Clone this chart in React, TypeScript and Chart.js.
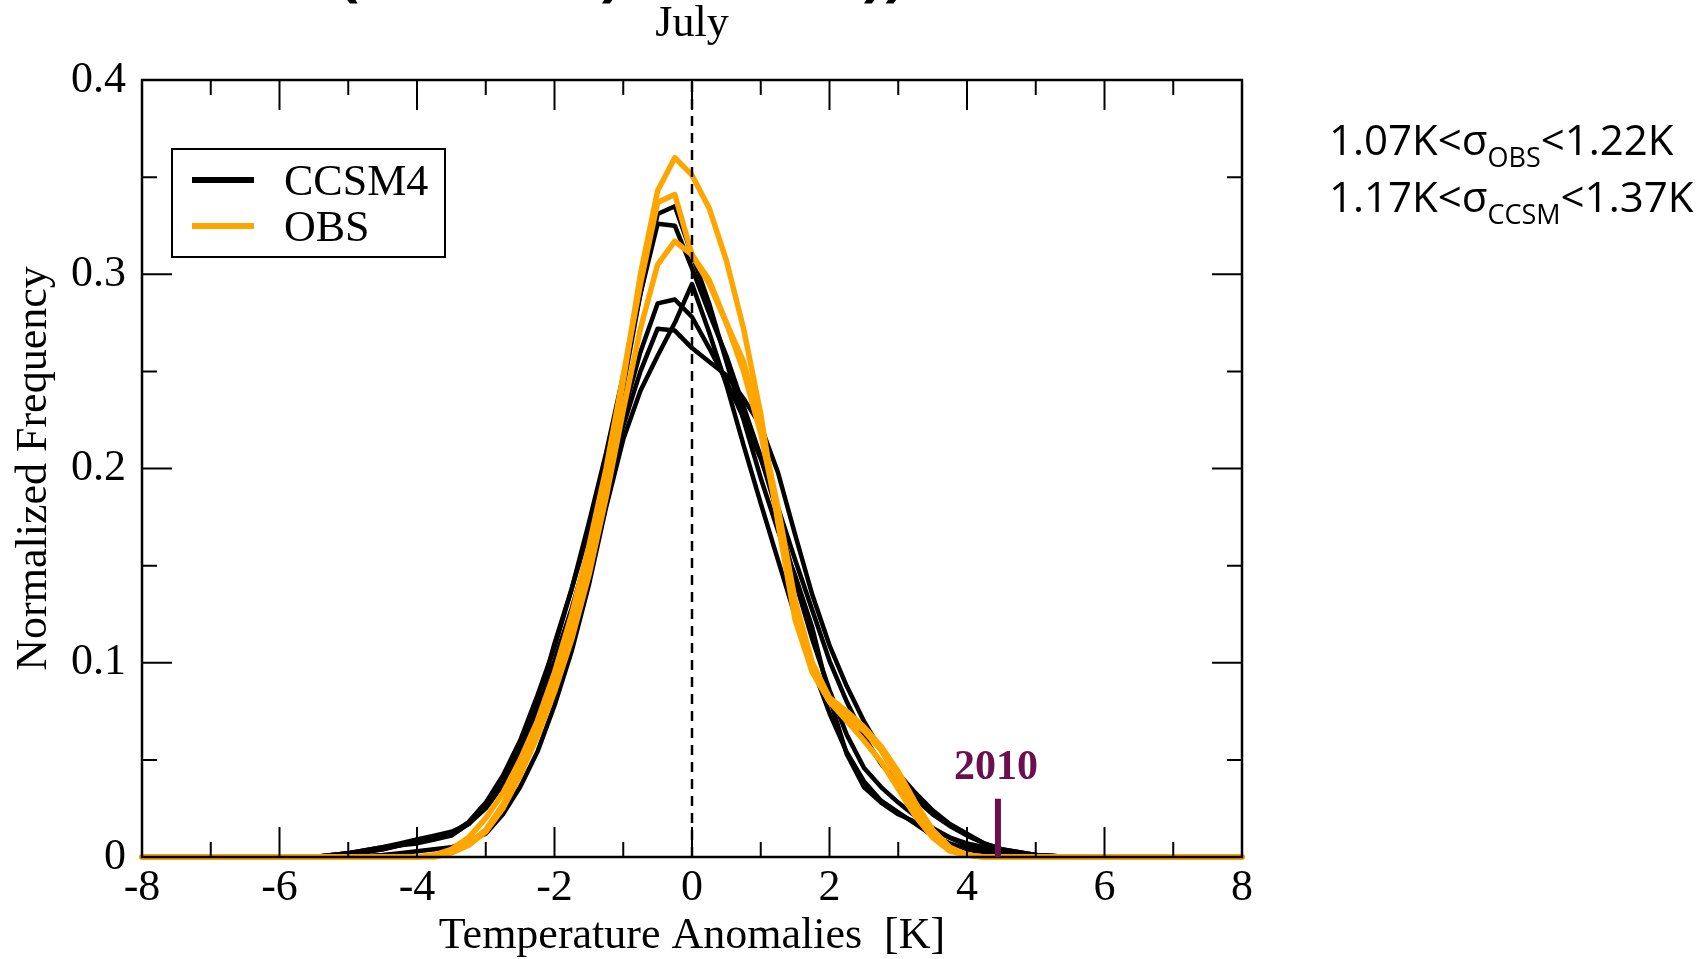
import React, { useEffect, useRef } from "react";
import { Chart, registerables } from "chart.js";

Chart.register(...registerables);

const SERIF = "'Liberation Serif', 'Times New Roman', serif";
const SANS = "'Open Sans', 'Noto Sans', sans-serif";
const ORANGE = "#FFA500";
const BLACK = "#000000";
const MAROON = "#6b0f4e";

// Temperature anomaly bins [K]
const TEMP_BINS = [
  -8, -5.5, -5, -4.5, -4.25, -4, -3.75, -3.5, -3.25, -3, -2.75, -2.5, -2.25, -2,
  -1.75, -1.5, -1.25, -1, -0.75, -0.5, -0.25, 0, 0.25, 0.5, 0.75, 1, 1.25, 1.5,
  1.75, 2, 2.25, 2.5, 2.75, 3, 3.25, 3.5, 3.75, 4, 4.25, 4.5, 5, 5.5, 8,
];

// CCSM4 ensemble members (normalized frequency)
const CCSM4_RUN1 = [
  0, 0, 0.001, 0.004, 0.006, 0.009, 0.011, 0.013, 0.017, 0.025, 0.037, 0.053, 0.078, 0.11,
  0.138, 0.168, 0.202, 0.242, 0.29, 0.331, 0.335, 0.31, 0.285, 0.255, 0.225, 0.195, 0.168, 0.145,
  0.118, 0.082, 0.053, 0.036, 0.028, 0.022, 0.018, 0.014, 0.01, 0.007, 0.005, 0.003, 0.001, 0, 0,
];
const CCSM4_RUN2 = [
  0, 0, 0.002, 0.005, 0.006, 0.008, 0.01, 0.012, 0.018, 0.028, 0.042, 0.06, 0.083, 0.108,
  0.138, 0.172, 0.208, 0.248, 0.29, 0.326, 0.325, 0.303, 0.28, 0.258, 0.232, 0.206, 0.176, 0.142,
  0.112, 0.086, 0.063, 0.046, 0.036, 0.028, 0.021, 0.015, 0.01, 0.006, 0.004, 0.002, 0.001, 0, 0,
];
const CCSM4_RUN3 = [
  0, 0, 0.002, 0.004, 0.006, 0.007, 0.009, 0.011, 0.017, 0.027, 0.04, 0.056, 0.077, 0.101,
  0.128, 0.158, 0.192, 0.228, 0.26, 0.285, 0.287, 0.278, 0.262, 0.245, 0.226, 0.205, 0.18, 0.153,
  0.127, 0.101, 0.08, 0.062, 0.048, 0.038, 0.03, 0.022, 0.016, 0.011, 0.007, 0.004, 0.001, 0, 0,
];
const CCSM4_RUN4 = [
  0, 0, 0.002, 0.005, 0.007, 0.009, 0.01, 0.012, 0.017, 0.026, 0.038, 0.053, 0.073, 0.098,
  0.126, 0.158, 0.19, 0.222, 0.25, 0.272, 0.271, 0.262, 0.255, 0.248, 0.236, 0.222, 0.198, 0.166,
  0.135, 0.109, 0.088, 0.07, 0.055, 0.043, 0.033, 0.024, 0.017, 0.012, 0.007, 0.004, 0.001, 0, 0,
];
const CCSM4_RUN5 = [
  0, 0, 0, 0.001, 0.002, 0.003, 0.004, 0.005, 0.008, 0.012, 0.022, 0.036, 0.054, 0.078,
  0.106, 0.14, 0.18, 0.215, 0.24, 0.258, 0.275, 0.295, 0.27, 0.243, 0.212, 0.182, 0.153, 0.124,
  0.098, 0.074, 0.054, 0.039, 0.029, 0.023, 0.017, 0.011, 0.007, 0.004, 0.002, 0.001, 0, 0, 0,
];

// Observational data sets
const OBS_SET1 = [
  0, 0, 0, 0, 0, 0, 0.001, 0.003, 0.007, 0.014, 0.027, 0.045, 0.066, 0.09,
  0.118, 0.15, 0.195, 0.245, 0.3, 0.343, 0.36, 0.351, 0.334, 0.307, 0.272, 0.228, 0.172, 0.122,
  0.095, 0.08, 0.072, 0.065, 0.055, 0.04, 0.024, 0.011, 0.004, 0.001, 0, 0, 0, 0, 0,
];
const OBS_SET2 = [
  0, 0, 0, 0, 0, 0, 0.001, 0.004, 0.01, 0.02, 0.033, 0.05, 0.07, 0.095,
  0.125, 0.16, 0.2, 0.248, 0.295, 0.337, 0.341, 0.31, 0.295, 0.275, 0.25, 0.218, 0.175, 0.126,
  0.096, 0.08, 0.07, 0.06, 0.049, 0.035, 0.021, 0.01, 0.003, 0.001, 0, 0, 0, 0, 0,
];
const OBS_SET3 = [
  0, 0, 0, 0, 0, 0, 0, 0.002, 0.006, 0.013, 0.025, 0.042, 0.062, 0.085,
  0.112, 0.145, 0.185, 0.23, 0.272, 0.305, 0.317, 0.31, 0.297, 0.275, 0.255, 0.222, 0.18, 0.132,
  0.1, 0.082, 0.075, 0.067, 0.057, 0.044, 0.028, 0.014, 0.005, 0.001, 0, 0, 0, 0, 0,
];

const CCSM4_SERIES = [CCSM4_RUN1, CCSM4_RUN2, CCSM4_RUN3, CCSM4_RUN4, CCSM4_RUN5];
const OBS_SERIES = [OBS_SET1, OBS_SET2, OBS_SET3];

const X_MINOR_TICKS = [-7, -5, -3, -1, 1, 3, 5, 7];
const X_MAJOR_TICKS = [-8, -6, -4, -2, 0, 2, 4, 6, 8];
const Y_MAJOR_TICKS = [0, 0.1, 0.2, 0.3, 0.4];
const Y_MINOR_TICKS = [0.05, 0.15, 0.25, 0.35];

const MARKER_X = 4.45;
const MARKER_TOP = 0.03;
const MARKER_LABEL = "2010";

const LEGEND_LABELS = ["CCSM4", "OBS"];
const LEGEND_COLORS = [BLACK, ORANGE];

const SIGMA_PRE = ["1.07K<σ", "1.17K<σ"];
const SIGMA_SUB = ["OBS", "CCSM"];
const SIGMA_POST = ["<1.22K", "<1.37K"];

const toPoints = (vals: number[]) => TEMP_BINS.map((x, i) => ({ x, y: vals[i] }));

const decorPlugin = {
  id: "decor",
  afterDatasetsDraw(chart: any) {
    const { ctx, chartArea: a, scales } = chart;
    const xs = scales.x;
    const ys = scales.y;
    ctx.save();
    // dashed zero line
    ctx.strokeStyle = BLACK;
    ctx.lineWidth = 2.5;
    ctx.setLineDash([10, 7]);
    const x0 = xs.getPixelForValue(0);
    ctx.beginPath();
    ctx.moveTo(x0, a.bottom);
    ctx.lineTo(x0, a.top);
    ctx.stroke();
    ctx.setLineDash([]);

    // ticks (inward, all four sides)
    ctx.lineWidth = 2;
    const MAJ = 30;
    const MIN = 15;
    ctx.beginPath();
    const xt = (v: number, len: number) => {
      const px = xs.getPixelForValue(v);
      ctx.moveTo(px, a.bottom);
      ctx.lineTo(px, a.bottom - len);
      ctx.moveTo(px, a.top);
      ctx.lineTo(px, a.top + len);
    };
    const yt = (v: number, len: number) => {
      const py = ys.getPixelForValue(v);
      ctx.moveTo(a.left, py);
      ctx.lineTo(a.left + len, py);
      ctx.moveTo(a.right, py);
      ctx.lineTo(a.right - len, py);
    };
    X_MAJOR_TICKS.forEach((v) => xt(v, MAJ));
    X_MINOR_TICKS.forEach((v) => xt(v, MIN));
    Y_MAJOR_TICKS.forEach((v) => yt(v, MAJ));
    Y_MINOR_TICKS.forEach((v) => yt(v, MIN));
    ctx.stroke();

    // frame
    ctx.lineWidth = 2.5;
    ctx.strokeRect(a.left, a.top, a.right - a.left, a.bottom - a.top);

    // 2010 marker
    const mx = xs.getPixelForValue(MARKER_X);
    const myTop = ys.getPixelForValue(MARKER_TOP);
    const myBot = ys.getPixelForValue(0);
    ctx.strokeStyle = MAROON;
    ctx.lineWidth = 6;
    ctx.beginPath();
    ctx.moveTo(mx, myBot);
    ctx.lineTo(mx, myTop);
    ctx.stroke();
    ctx.fillStyle = MAROON;
    ctx.font = `bold 42px ${SERIF}`;
    ctx.textAlign = "center";
    ctx.textBaseline = "alphabetic";
    ctx.fillText(MARKER_LABEL, mx - 2, myTop - 20);

    // legend box
    const lx = a.left + 30;
    const ly = a.top + 69;
    ctx.strokeStyle = BLACK;
    ctx.lineWidth = 2;
    ctx.fillStyle = "#ffffff";
    ctx.fillRect(lx, ly, 273, 108);
    ctx.strokeRect(lx, ly, 273, 108);
    LEGEND_LABELS.forEach((lab, i) => {
      const yy = ly + 31 + i * 46;
      ctx.strokeStyle = LEGEND_COLORS[i];
      ctx.lineWidth = 6;
      ctx.beginPath();
      ctx.moveTo(lx + 20, yy);
      ctx.lineTo(lx + 82, yy);
      ctx.stroke();
      ctx.fillStyle = BLACK;
      ctx.font = `44px ${SERIF}`;
      ctx.textAlign = "left";
      ctx.fillText(lab, lx + 112, ly + 46 + i * 46);
    });
    ctx.restore();
  },
  afterDraw(chart: any) {
    const { ctx } = chart;
    ctx.save();
    // sigma annotations
    ctx.fillStyle = BLACK;
    ctx.textAlign = "left";
    ctx.textBaseline = "alphabetic";
    SIGMA_PRE.forEach((pre, i) => {
      const base = 155 + i * 57;
      let x = 1329;
      ctx.font = `42px ${SANS}`;
      ctx.fillText(pre, x, base);
      x += ctx.measureText(pre).width;
      ctx.font = `27px ${SANS}`;
      ctx.fillText(SIGMA_SUB[i], x, base + 12);
      x += ctx.measureText(SIGMA_SUB[i]).width;
      ctx.font = `42px ${SANS}`;
      ctx.fillText(SIGMA_POST[i], x, base);
    });
    // cut-off slide title fragments at the very top
    ctx.font = `bold 64px ${SANS}`;
    ctx.fillText("(", 338, -7);
    ctx.fillText(")", 600, -7);
    ctx.fillText("))", 862, -7);
    ctx.restore();
  },
};

export default function App() {
  const ref = useRef<HTMLCanvasElement | null>(null);
  useEffect(() => {
    if (!ref.current) return;
    const datasets: any[] = [];
    OBS_SERIES.forEach((s, i) =>
      datasets.push({
        label: `OBS ${i + 1}`,
        data: toPoints(s),
        borderColor: ORANGE,
        borderWidth: 5.5,
        pointRadius: 0,
        tension: 0,
        fill: false,
        order: 0,
        clip: 8,
        borderJoinStyle: "round",
        borderCapStyle: "round",
      })
    );
    CCSM4_SERIES.forEach((s, i) =>
      datasets.push({
        label: `CCSM4 ${i + 1}`,
        data: toPoints(s),
        borderColor: BLACK,
        borderWidth: 4.5,
        pointRadius: 0,
        tension: 0,
        fill: false,
        order: 1,
        clip: 8,
        borderJoinStyle: "round",
        borderCapStyle: "round",
      })
    );
    const chart = new Chart(ref.current, {
      type: "line",
      data: { datasets },
      options: {
        animation: false,
        responsive: false,
        maintainAspectRatio: false,
        parsing: false,
        layout: { padding: { left: 0, right: 459, top: 0, bottom: 0 } },
        plugins: {
          legend: { display: false },
          tooltip: { enabled: false },
          title: {
            display: true,
            text: "July",
            fullSize: false,
            color: BLACK,
            font: { family: SERIF, size: 44, weight: "normal", lineHeight: 1.1 },
            padding: { top: 0, bottom: 31.6 },
          },
        },
        scales: {
          x: {
            type: "linear",
            min: -8,
            max: 8,
            grid: { display: false, drawTicks: false },
            border: { display: false },
            ticks: {
              stepSize: 2,
              color: BLACK,
              padding: 5,
              font: { family: SERIF, size: 44, lineHeight: 1.2 },
              callback: (v: any) => String(v),
            },
            title: {
              display: true,
              text: "Temperature Anomalies  [K]",
              color: BLACK,
              font: { family: SERIF, size: 44, lineHeight: 1.0 },
              padding: { top: 0, bottom: 1 },
            },
            afterFit: (s: any) => {
              s.height = 102;
            },
          },
          y: {
            type: "linear",
            min: 0,
            max: 0.4,
            grid: { display: false, drawTicks: false },
            border: { display: false },
            ticks: {
              stepSize: 0.1,
              color: BLACK,
              padding: 16,
              font: { family: SERIF, size: 44, lineHeight: 1.2 },
              callback: (v: any) => (Math.abs(v) < 1e-9 ? "0" : Number(v).toFixed(1)),
            },
            title: {
              display: true,
              text: "Normalized Frequency",
              color: BLACK,
              font: { family: SERIF, size: 44, lineHeight: 1.2 },
              padding: { top: 8, bottom: 0 },
            },
            afterFit: (s: any) => {
              s.width = 142;
            },
          },
        },
      } as any,
      plugins: [decorPlugin],
    });
    return () => chart.destroy();
  }, []);
  return (
    <div style={{ position: "absolute", left: 0, top: 0, width: 1701, height: 959, background: "#fff" }}>
      <canvas ref={ref} width={1701} height={959} style={{ display: "block" }} />
    </div>
  );
}
